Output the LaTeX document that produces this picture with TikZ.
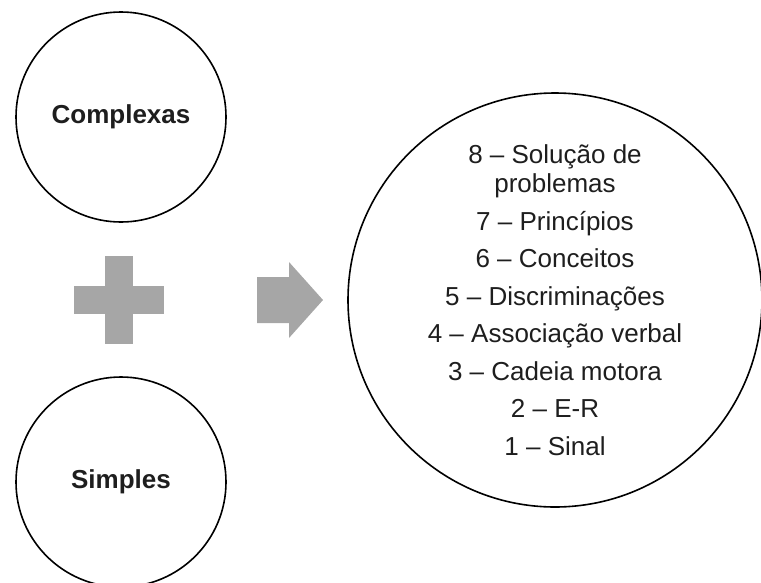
\documentclass[tikz,border=0pt]{standalone}
\usepackage{fontspec}
\setmainfont{Liberation Sans}
\definecolor{shapegray}{HTML}{A6A6A6}
\definecolor{txt}{HTML}{1E1E1E}
\tikzset{
  ring/.style={circle, draw=black, line width=1.6pt, inner sep=0pt, text=txt},
  smallring/.style={ring, minimum size=210pt, font=\fontsize{26}{29}\selectfont\bfseries},
  bigring/.style={ring, minimum size=414pt, align=center, font=\fontsize{26}{29}\selectfont},
  grayshape/.style={fill=shapegray, draw=none}
}
\begin{document}
\begin{tikzpicture}[x=1pt, y=-1pt]
\useasboundingbox (0,0) rectangle (761,582);
\node[smallring] (complexas) at (121,117) {Complexas};
\node[smallring] (simples) at (121,482) {Simples};
\node[bigring] (niveis) at (555,300) {8 – Solução de\\problemas\\[8.5pt]
7 – Princípios\\[8.5pt]
6 – Conceitos\\[8.5pt]
5 – Discriminações\\[8.5pt]
4 – Associação verbal\\[8.5pt]
3 – Cadeia motora\\[8.5pt]
2 – E-R\\[8.5pt]
1 – Sinal};
% plus sign
\fill[grayshape] (74,286) rectangle (164,314);
\fill[grayshape] (105,256) rectangle (133,344);
% arrow
\fill[grayshape] (257,277) -- (289,277) -- (289,262) -- (323,300) -- (289,338) -- (289,323) -- (257,323) -- cycle;
\end{tikzpicture}
\end{document}
